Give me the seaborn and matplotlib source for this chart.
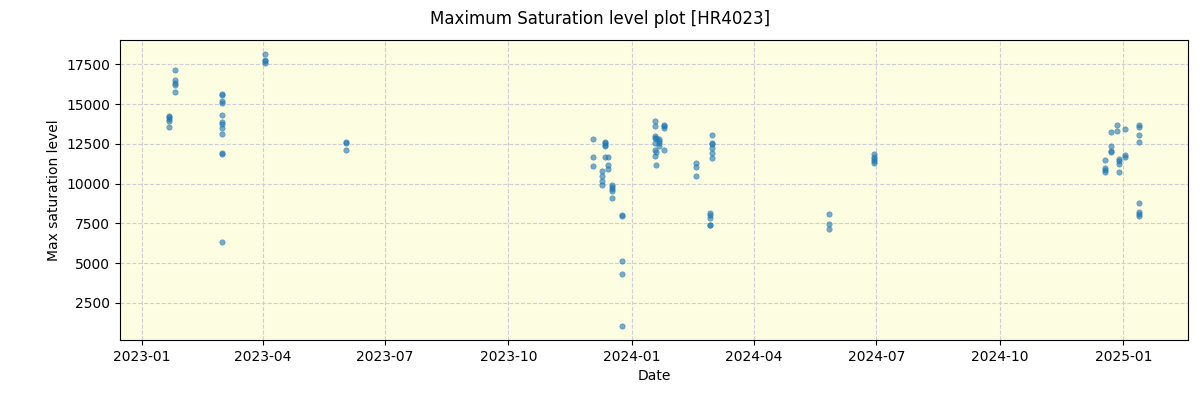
import seaborn as sns
import pandas as pd
import matplotlib.pyplot as plt
import matplotlib.dates as mdates

# valori (data di osservazione, livello massimo di saturazione)
dates = (
    ["2023-01-21"] * 5 + ["2023-01-26"] * 5 + ["2023-03-02"] * 12 + ["2023-04-03"] * 4
    + ["2023-06-02"] * 3 + ["2023-12-03"] * 3 + ["2023-12-10"] * 4 + ["2023-12-12"] * 5
    + ["2023-12-14"] * 3 + ["2023-12-17"] * 5 + ["2023-12-25"] * 5
    + ["2024-01-18"] * 7 + ["2024-01-19"] * 3 + ["2024-01-21"] * 4 + ["2024-01-25"] * 4
    + ["2024-02-18"] * 3 + ["2024-02-28"] * 5 + ["2024-03-01"] * 6
    + ["2024-05-27"] * 3 + ["2024-06-29"] * 5
    + ["2024-12-18"] * 4 + ["2024-12-23"] * 4 + ["2024-12-27"] * 2 + ["2024-12-29"] * 4
    + ["2025-01-02"] * 3 + ["2025-01-13"] * 8
)
max_saturation = [
    14286, 14180, 14079, 13971, 13574,
    17167, 16537, 16348, 16178, 15780,
    15654, 15566, 15213, 15087, 14331, 13908, 13782, 13530, 13152, 11910, 11860, 6326,
    18176, 17773, 17690, 17608,
    12629, 12541, 12125,
    12818, 11659, 11116,
    10801, 10486, 10171, 9919,
    12629, 12541, 12459, 12377, 11659,
    11659, 11180, 10927,
    9919, 9812, 9667, 9540, 9099,
    8028, 7940, 5128, 4309, 1031,
    13026, 12856, 12541, 12125, 11747, 13971, 13637,
    12881, 11999, 11180,
    12818, 12692, 12541, 12377,
    13719, 13637, 13530, 12125,
    11325, 11054, 10486,
    8154, 8047, 7858, 7400, 7372,
    13089, 12585, 12522, 12251, 11910, 11620,
    8091, 7436, 7146,
    11891, 11683, 11557, 11431, 11305,
    11494, 10990, 10864, 10738,
    13260, 12377, 12037, 11999,
    13719, 13341,
    11557, 11431, 11242, 10738,
    13449, 11810, 11683,
    13719, 13593, 13070, 12629, 8784, 8217, 8091, 7965,
]

df = pd.DataFrame({"Date": pd.to_datetime(dates), "Max saturation level": max_saturation})

fig = plt.figure(figsize=(12, 4), dpi=100)
ax = fig.add_axes([0.1, 0.15, 0.89, 0.75])
ax.set_facecolor("#fdfde2")

sns.scatterplot(data=df, x="Date", y="Max saturation level", ax=ax,
                color="tab:blue", s=15, alpha=0.6, edgecolor="tab:blue", linewidth=0.5,
                zorder=3)

ax.grid(True, linestyle="--", color="#cfcfd6", linewidth=0.8, zorder=0)
ax.set_axisbelow(True)
ax.xaxis.set_major_locator(mdates.MonthLocator(bymonth=[1, 4, 7, 10]))
ax.xaxis.set_major_formatter(mdates.DateFormatter("%Y-%m"))
ax.set_xlabel("Date")
ax.set_ylabel("Max saturation level")
fig.suptitle("Maximum Saturation level plot [HR4023]", y=0.975)

fig.savefig("out.png")
